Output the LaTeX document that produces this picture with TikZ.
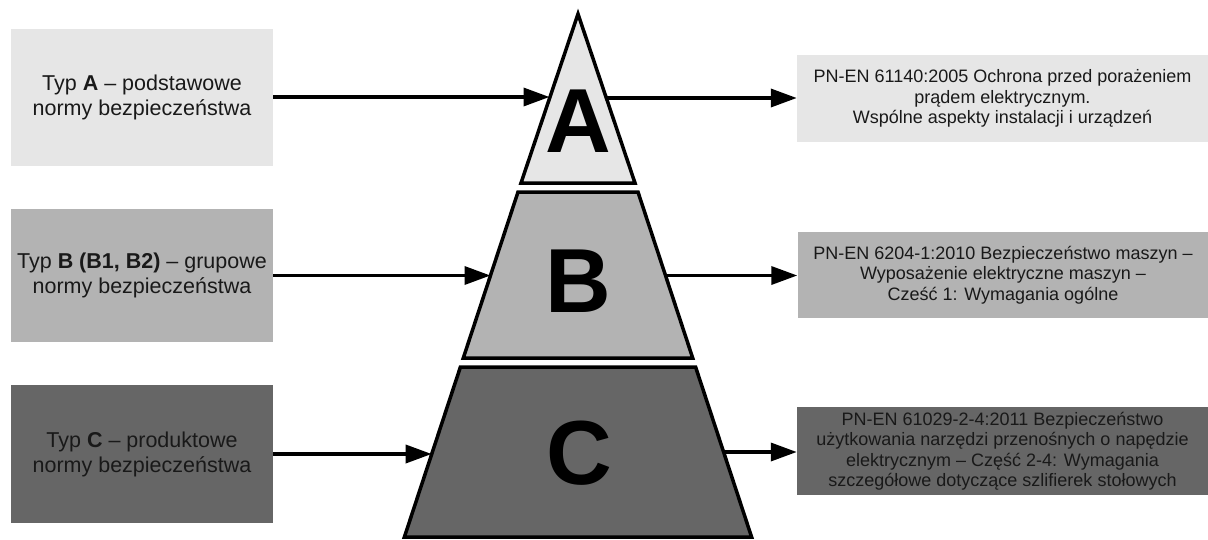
\documentclass[tikz,border=0pt]{standalone}
\usepackage{fontspec}
\setmainfont{Liberation Sans}
\usetikzlibrary{arrows.meta}
\definecolor{lvA}{HTML}{E6E6E6}
\definecolor{lvB}{HTML}{B3B3B3}
\definecolor{lvC}{HTML}{666666}
\tikzset{
  leftbox/.style={rectangle, inner sep=0pt, minimum width=262pt, align=center,
    font=\fontsize{21.5}{25}\selectfont, text=black!90},
  rightbox/.style={rectangle, inner sep=0pt, minimum width=411pt, align=center,
    font=\fontsize{18}{20.5}\selectfont, text=black!90},
  level/.style={draw=black, line width=3.5pt, line join=miter},
  biglabel/.style={inner sep=0pt, font=\fontsize{91}{91}\selectfont\bfseries},
  arr/.style={line width=3.5pt, -{Triangle[length=26pt,width=18pt]}}
}
\begin{document}
\begin{tikzpicture}[x=1pt,y=-1pt]
\useasboundingbox (0,0) rectangle (1208,539);

% category boxes on the left
\node[leftbox, fill=lvA, minimum height=137pt] (ta) at (142,97)
  {Typ \textbf{A} – podstawowe\\normy bezpieczeństwa};
\node[leftbox, fill=lvB, minimum height=133pt] (tb) at (142,275.5)
  {Typ \textbf{B (B1, B2)} – grupowe\\normy bezpieczeństwa};
\node[leftbox, fill=lvC, minimum height=138pt] (tc) at (142,454)
  {Typ \textbf{C} – produktowe\\normy bezpieczeństwa};

% example standards on the right
\node[rightbox, fill=lvA, minimum height=87pt] (ra) at (1002.5,98.5)
  {PN-EN 61140:2005 Ochrona przed porażeniem\\prądem elektrycznym.\\Wspólne aspekty instalacji i urządzeń};
\node[rightbox, fill=lvB, minimum height=86pt] (rb) at (1003,275)
  {PN-EN 6204-1:2010 Bezpieczeństwo maszyn –\\Wyposażenie elektryczne maszyn –\\Cześć 1: Wymagania ogólne};
\node[rightbox, fill=lvC, minimum height=88pt] (rc) at (1002.5,451)
  {PN-EN 61029-2-4:2011 Bezpieczeństwo\\użytkowania narzędzi przenośnych o napędzie\\elektrycznym – Część 2-4: Wymagania\\szczegółowe dotyczące szlifierek stołowych};

% pyramid in three levels
\draw[level, fill=lvA] (578,14) -- (635.0,183) -- (521.0,183) -- cycle;
\draw[level, fill=lvB] (518.0,192) -- (638.0,192) -- (692.7,358) -- (463.3,358) -- cycle;
\draw[level, fill=lvC] (460.4,367) -- (695.6,367) -- (751.6,537) -- (404.4,537) -- cycle;

\node[biglabel] (la) at (578,121) {A};
\node[biglabel] (lb) at (578,281) {B};
\node[biglabel] (lc) at (579,453) {C};

% points where the connectors meet the pyramid sides
\coordinate (aL) at (549.5,97);
\coordinate (aR) at (606.5,98);
\coordinate (bL) at (490.5,275.5);
\coordinate (bR) at (665.5,275.5);
\coordinate (cL) at (431.7,454);
\coordinate (cR) at (724.3,452);

\draw[arr] (ta.east) -- (aL);
\draw[arr] (tb.east) -- (bL);
\draw[arr] (tc.east) -- (cL);
\draw[arr] (aR) -- (aR -| ra.west);
\draw[arr] (bR) -- (bR -| rb.west);
\draw[arr] (cR) -- (cR -| rc.west);
\end{tikzpicture}
\end{document}
